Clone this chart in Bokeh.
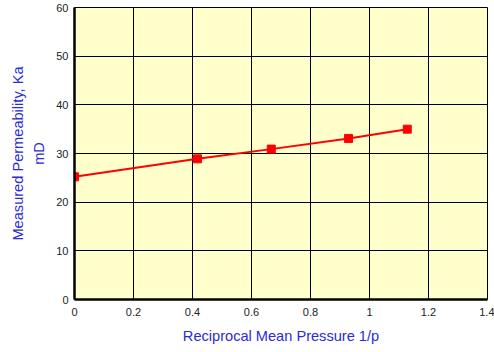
from bokeh.plotting import figure
from bokeh.models import FixedTicker, ColumnDataSource, Range1d, LinearAxis
from bokeh.embed import file_html
from bokeh.resources import INLINE

# Data
recip_pressure = [0.0, 0.417, 0.667, 0.929, 1.128]
permeability = [25.2, 28.9, 30.9, 33.1, 35.0]

x_ticks = [0, 0.2, 0.4, 0.6, 0.8, 1.0, 1.2, 1.4]
x_tick_labels = ["0", "0.2", "0.4", "0.6", "0.8", "1", "1.2", "1.4"]
y_ticks = [0, 10, 20, 30, 40, 50, 60]

x_title = "Reciprocal Mean Pressure 1/p"
y_title_line1 = "Measured Permeability, Ka"
y_title_line2 = "mD"

LABEL_COLOR = "#2b2bd6"

src = ColumnDataSource(dict(x=recip_pressure, y=permeability))

p = figure(width=494, height=352, output_backend="svg", toolbar_location=None,
           x_range=Range1d(0, 1.4), y_range=Range1d(0, 60),
           min_border_left=74, min_border_right=7, min_border_top=7, min_border_bottom=53)
p.frame_width = 413
p.frame_height = 292
p.background_fill_color = "#ffffcc"
p.border_fill_color = "white"
p.outline_line_color = "black"
p.outline_line_width = 1

for ax in (p.xaxis[0], p.yaxis[0]):
    ax.major_tick_out = 0
    ax.major_tick_in = 0
    ax.minor_tick_out = 0
    ax.minor_tick_in = 0
    ax.axis_line_width = 2.5
    ax.axis_line_color = "black"
    ax.major_label_text_font = "Liberation Sans"
    ax.major_label_text_font_size = "11px"
    ax.major_label_text_color = "#222222"
    ax.axis_label_text_font = "Liberation Sans"
    ax.axis_label_text_font_size = "14.6px"
    ax.axis_label_text_font_style = "normal"
    ax.axis_label_text_color = LABEL_COLOR

p.xaxis.ticker = FixedTicker(ticks=x_ticks)
p.xaxis.major_label_overrides = {t: l for t, l in zip(x_ticks, x_tick_labels)}
p.yaxis.ticker = FixedTicker(ticks=y_ticks)
p.xaxis.axis_label = x_title
p.yaxis.axis_label = y_title_line2
p.xaxis.major_label_standoff = 8
p.xaxis.axis_label_standoff = 9
p.yaxis.major_label_standoff = 6
p.yaxis.axis_label_standoff = 6

# outer axis carrying the first line of the y title
outer = LinearAxis(axis_label=y_title_line1, ticker=FixedTicker(ticks=[]),
                   major_label_text_font_size="0px", axis_line_color=None,
                   major_tick_out=0, major_tick_in=0, minor_tick_out=0, minor_tick_in=0,
                   axis_label_text_font="Liberation Sans", axis_label_text_font_size="14.6px",
                   axis_label_text_font_style="normal", axis_label_text_color=LABEL_COLOR,
                   axis_label_standoff=3, major_label_standoff=0)
p.add_layout(outer, "left")

p.grid.grid_line_color = "black"
p.grid.grid_line_width = 1
p.grid.grid_line_alpha = 1

p.line("x", "y", source=src, line_color="red", line_width=2)
p.scatter("x", "y", source=src, marker="square", size=8, fill_color="red", line_color="red")

open("out.html", "w").write(file_html(p, INLINE))
